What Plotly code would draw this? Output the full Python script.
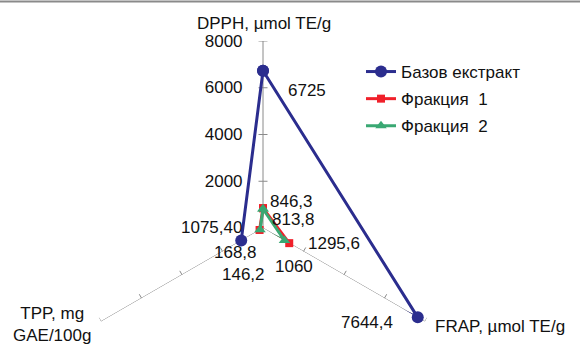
import math
import plotly.graph_objects as go

# ---- data ----
axes_names = ["DPPH, µmol TE/g", "FRAP, µmol TE/g", "TPP, mg<br>GAE/100g"]
axis_angles = [0, 120, 240]          # clockwise from top
tick_values = [2000, 4000, 6000, 8000]
tick_labels = ["2000", "4000", "6000", "8000"]
r_max = 8000

series_names = ["Базов екстракт", "Фракция  1", "Фракция  2"]
base_values = [6725, 7644.4, 1075.40]
frac1_values = [846.3, 1295.6, 168.8]
frac2_values = [813.8, 1060, 146.2]
base_labels = ["6725", "7644,4", "1075,40"]
frac1_labels = ["846,3", "1295,6", "168,8"]
frac2_labels = ["813,8", "1060", "146,2"]

# ---- geometry / style ----
W, H = 580, 346
CX, CY, RPX = 263, 228, 187
# sector [-30, 210] has a bounding box of width 2R and height 1.5R
dom_x = [(CX - RPX) / W, (CX + RPX) / W]
dom_y = [1 - (CY + 0.5 * RPX) / H, 1 - (CY - RPX) / H]
FONT = "Liberation Sans, Arial, sans-serif"
FS = 17
BLUE = "#2B2D8E"
RED = "#F0202A"
GREEN = "#3AA873"
GRAY = "#8a8a8a"
TXT = "#111111"


def to_paper(r, th):
    a = math.radians(90 - th)
    px = CX + r / r_max * RPX * math.cos(a)
    py = CY - r / r_max * RPX * math.sin(a)
    return px / W, 1 - py / H


fig = go.Figure()

# spokes + tick marks
sr, st = [], []
half = 4.5 / RPX * r_max
for ang in axis_angles:
    sr += [0, r_max, None]
    st += [ang, ang, None]
    for t in tick_values:
        d = math.degrees(math.atan(half / t))
        rr = math.hypot(t, half)
        sr += [rr, rr, None]
        st += [ang - d, ang + d, None]
fig.add_trace(go.Scatterpolar(r=sr, theta=st, mode="lines", line=dict(color=GRAY, width=1),
                              showlegend=False, hoverinfo="skip", cliponaxis=False))


def closed(v):
    return list(v) + [v[0]]


th_closed = closed(axis_angles)
fig.add_trace(go.Scatterpolar(r=closed(base_values), theta=th_closed, name=series_names[0],
                              legendgroup="a", mode="lines+markers", line=dict(color=BLUE, width=3),
                              marker=dict(symbol="circle", size=12, color=BLUE), cliponaxis=False))
fig.add_trace(go.Scatterpolar(r=closed(frac1_values), theta=th_closed, name=series_names[1],
                              legendgroup="b", mode="lines+markers", line=dict(color=RED, width=3),
                              marker=dict(symbol="square", size=8, color=RED), cliponaxis=False))
fig.add_trace(go.Scatterpolar(r=closed(frac2_values), theta=th_closed, name=series_names[2],
                              legendgroup="c", mode="lines+markers", line=dict(color=GREEN, width=3),
                              marker=dict(symbol="triangle-up", size=10, color=GREEN), cliponaxis=False))

# data labels (pixel offsets from the point)
label_shifts = {
    "base": [(44, -20), (-51, -5), (-30, 13)],
    "f1": [(28, 7), (45, 0), (-24, -23)],
    "f2": [(30, -11), (10, -26), (-17, -45)],
}
annotations = []
for key, vals, labs in [("base", base_values, base_labels),
                        ("f1", frac1_values, frac1_labels),
                        ("f2", frac2_values, frac2_labels)]:
    for v, lab, ang, (dx, dy) in zip(vals, labs, axis_angles, label_shifts[key]):
        x, y = to_paper(v, ang)
        annotations.append(dict(x=x, y=y, xref="paper", yref="paper", text=lab, showarrow=False,
                                xanchor="center", yanchor="middle", xshift=dx, yshift=dy,
                                font=dict(family=FONT, size=FS, color=TXT)))

# axis titles
annotations.append(dict(x=264 / W, y=1 - 23 / H, xref="paper", yref="paper", text=axes_names[0],
                        showarrow=False, xanchor="center", yanchor="middle",
                        font=dict(family=FONT, size=FS, color=TXT)))
annotations.append(dict(x=433 / W, y=1 - 326 / H, xref="paper", yref="paper", text=axes_names[1],
                        showarrow=False, xanchor="left", yanchor="middle",
                        font=dict(family=FONT, size=FS, color=TXT)))
annotations.append(dict(x=52 / W, y=1 - 324 / H, xref="paper", yref="paper", text=axes_names[2],
                        showarrow=False, xanchor="center", yanchor="middle", align="center",
                        font=dict(family=FONT, size=FS, color=TXT)))

fig.update_layout(
    width=W, height=H,
    margin=dict(l=0, r=0, t=0, b=0),
    paper_bgcolor="white",
    font=dict(family=FONT, size=FS, color=TXT),
    polar=dict(
        domain=dict(x=dom_x, y=dom_y),
        sector=[-30, 210],
        bgcolor="white",
        radialaxis=dict(range=[0, r_max], angle=90, side="counterclockwise",
                        tickvals=tick_values, ticktext=tick_labels, tickangle=90,
                        ticks="outside", ticklen=14, tickcolor="rgba(0,0,0,0)",
                        showline=False, showgrid=False,
                        tickfont=dict(family=FONT, size=FS, color=TXT)),
        angularaxis=dict(rotation=90, direction="clockwise", tickvals=axis_angles,
                         showticklabels=False, ticks="", showgrid=False, showline=False),
    ),
    legend=dict(x=361 / W, y=1 - 54 / H, xanchor="left", yanchor="top",
                bgcolor="rgba(0,0,0,0)", font=dict(family=FONT, size=FS, color=TXT),
                itemwidth=30, tracegroupgap=2),
    annotations=annotations,
    shapes=[dict(type="line", xref="paper", yref="paper", x0=0, x1=1,
                 y0=1 - 1.5 / H, y1=1 - 1.5 / H, line=dict(color=GRAY, width=2))],
    showlegend=True,
)

fig.write_html("out.html", config={"displayModeBar": False},
               post_script="document.body.style.margin='0';document.body.style.overflow='hidden';")
